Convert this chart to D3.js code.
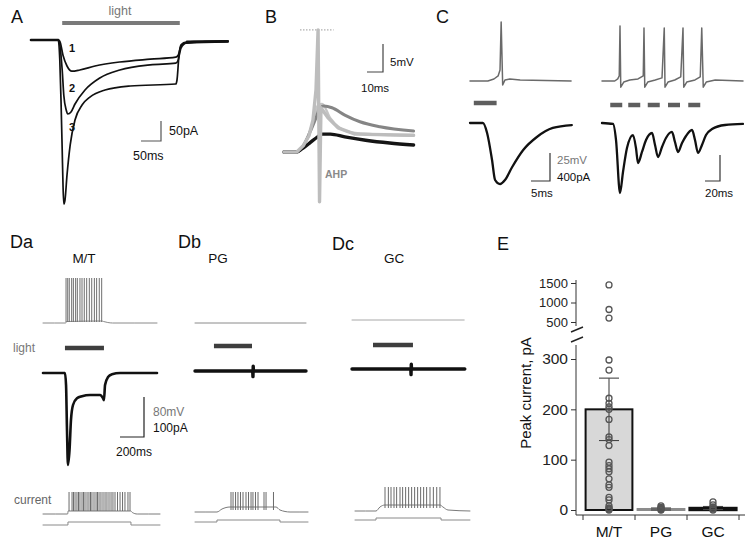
<!DOCTYPE html>
<html>
<head>
<meta charset="utf-8">
<script src="https://cdn.jsdelivr.net/npm/d3@7"></script>
<style>
  body { margin: 0; background: #fff; }
  svg { display: block; font-family: "Liberation Sans", Arial, sans-serif; }
</style>
</head>
<body>
<div id="fig"></div>
<script>
// ---- A: light-evoked currents (ms, pA)
const aLight = [78, 372];
const aTrace1 = [[0,0],[68,0],[72,-3],[80,-38],[90,-65],[102,-78],[122,-75],[160,-65],[222,-55],[298,-48],[362,-43],[368,-38],[375,-15],[385,-8],[422,-5],[492,-3]];
const aTrace2 = [[0,0],[68,0],[72,-12],[78,-75],[82,-138],[88,-175],[92,-185],[100,-180],[110,-160],[135,-125],[172,-95],[222,-75],[298,-62],[362,-58],[368,-50],[375,-20],[388,-8],[492,-5]];
const aTrace3 = [[0,0],[68,0],[72,-50],[75,-150],[78,-275],[80,-362],[82,-410],[85,-400],[90,-338],[98,-262],[110,-200],[128,-162],[148,-142],[185,-125],[248,-115],[362,-110],[365,-100],[370,-38],[375,-12],[388,-5],[492,-3]];

// ---- B: subthreshold responses (ms, mV)
const bBlack = [[0,0],[8,0],[11,0.5],[16,1.6],[21,2.7],[24,3.2],[29,3.2],[38,2.7],[51,2.1],[66,1.6],[81,1.25]];
const bGray = [[0,0],[8,0],[12,1.1],[16,3.4],[20,6.1],[22.5,7.9],[25,8.2],[30,7.9],[38,6.6],[47.5,5.4],[60,4.5],[81,3.75]];
const bLight = [[0,0],[8,0],[13,1.6],[17.5,4.8],[21.3,8.4],[23.8,8.6],[28.8,6.1],[35,4.3],[44.4,3.4],[81,2.9]];
const bSpike = [[0,0],[8,0],[12,1.1],[15.6,2.9],[18.1,5.7],[20,11.1],[21.3,21.8],[22.2,-8.9],[23.1,7.9],[27.5,6.1],[33.8,4.3],[44.4,3.2],[81,3]];
const bClip = [10, 31, 21.8];

// ---- C: single pulse / pulse train (ms, mV / pA)
const cLeftV = [[0,0],[4.7,0],[6.3,1.8],[7.4,4.5],[7.9,9.8],[8.2,52.7],[8.6,-3.6],[9.2,0.9],[10.5,1.8],[13.2,0.9],[26.6,0]];
const cLeftI = [[0,0],[3.4,0],[4.5,-143],[5.8,-529],[6.6,-814],[7.9,-872],[9.2,-815],[11.1,-629],[14,-386],[17.6,-200],[21.8,-71],[26.8,-29]];
const cLeftPulse = [[1,7]];
const cRightV = [[0,0],[17,0],[21,2],[23,5],[24,53],[25,-6],[29,-1],[37,1],[48,2],[55,5],[56,51],[57,-6],[61,-1],[71,1],[80,3],[83,51],[84,-6],[88,-1],[97,1],[105,4],[108,51],[109,-6],[113,-1],[124,1],[131,4],[133,51],[135,-6],[139,-1],[151,1],[188,0]];
const cRightI = [[0,0],[14.7,-15],[18.7,-262],[24,-1077],[28,-754],[33.3,-385],[41.3,-185],[45.3,-385],[48,-615],[53.3,-446],[58.7,-262],[66.7,-154],[70.7,-338],[74.7,-523],[80,-369],[85.3,-231],[93.3,-138],[97.3,-292],[101.3,-446],[106.7,-308],[112,-200],[120,-108],[124,-262],[128,-461],[133.3,-338],[138.7,-185],[146.7,-92],[164,-31],[188,-15]];
const cRightPulses = [[11,27],[35,51],[61,77],[88,104],[115,131]];

// ---- D: M/T, PG, GC (ms, mV / pA)
const dCells = ["M/T", "PG", "GC"];
const dLight = [[183,508],[158,475],[175,508]];
const daTop = [[0,0],[190,0],[195,3],[490,4],[505,3],[540,1],[580,0],[950,0]];
const daTopSpikes = [192,206,219,239,253,272,286,308,325,344,364,386,406,428,447,469,489];
const dbTop = [[0,0],[925,0]];
const dcTop = [[0,0],[935,0]];
const daMid = [[0,0],[183,0],[192,-30],[200,-143],[208,-230],[221,-193],[233,-118],[250,-80],[283,-63],[325,-58],[392,-55],[475,-55],[500,-63],[508,-68],[517,-30],[542,-10],[575,-3],[642,0],[950,0]];
const dbMid = [[0,0],[481,0],[483,-14],[485,12],[487,0],[925,0]];
const dcMid = [[0,0],[490,0],[492,-14],[494,12],[496,0],[940,0]];
const daBot = [[0,0],[205,0],[210,6],[730,6],[745,3],[785,0],[975,0]];
const daBotSpikes = [217,242,254,267,283,296,308,325,338,350,367,383,396,408,425,442,454,467,483,500,517,533,550,567,583,600,621,642,663,683,708,725];
const dbBot = [[0,0],[183,0],[225,6],[292,10],[675,10],[708,4],[792,0],[942,0]];
const dbBotSpikes = [300,317,338,358,379,400,425,446,467,483,504,525,575,592,654];
const dcBot = [[25,0],[200,0],[233,8],[275,12],[733,12],[758,8],[800,2],[983,0]];
const dcBotSpikes = [275,303,325,350,372,400,422,447,472,497,522,547,572,597,622,650,678,706,733];
const daStep = [[0,0],[208,0],[208,7.5],[733,7.5],[733,0],[975,0]];
const dbStep = [[0,0],[183,0],[183,5],[708,5],[708,0],[942,0]];
const dcStep = [[25,0],[200,0],[200,5],[742,5],[742,0],[983,0]];
const dSpikePeaks = [44, 40, 48];
const dTopPeak = 90;

// ---- E: peak current (pA)
const eCategories = ["M/T", "PG", "GC"];
const eMeans = [200, 2, 4];
const eSem = [62, 2, 3];
const eMT = [1450, 820, 600, 298, 278, 222, 212, 205, 200, 180, 145, 140, 128, 95, 88, 82, 76, 62, 50, 45, 25, 20, 8, 4, 2, 0];
const ePG = [8, 5, 3, 1, 0];
const eGC = [16, 10, 6, 3, 0];
const eLowTicks = [0, 100, 200, 300];
const eHighTicks = [500, 1000, 1500];

const FONT = '"Liberation Sans", Arial, sans-serif';
const svg = d3.select("#fig").append("svg").attr("width", 750).attr("height", 544);

function trace(data, x, y, color, width, curved = true) {
  const line = d3.line().x(d => x(d[0])).y(d => y(d[1]));
  if (curved) line.curve(d3.curveMonotoneX);
  svg.append("path").datum(data).attr("d", line)
    .attr("fill", "none").attr("stroke", color).attr("stroke-width", width)
    .attr("stroke-linejoin", "round").attr("stroke-linecap", "round");
}

function spikes(times, x, y, from, to, color) {
  svg.append("g").selectAll("line").data(times).join("line")
    .attr("x1", d => x(d)).attr("x2", d => x(d))
    .attr("y1", y(from)).attr("y2", y(to))
    .attr("stroke", color).attr("stroke-width", 1);
}

function pulses(ranges, x, ypx, color, width) {
  svg.append("g").selectAll("line").data(ranges).join("line")
    .attr("x1", d => x(d[0])).attr("x2", d => x(d[1]))
    .attr("y1", ypx).attr("y2", ypx)
    .attr("stroke", color).attr("stroke-width", width);
}

function text(str, x, y, size, color = "#111", anchor = "start", weight = "normal") {
  return svg.append("text").attr("x", x).attr("y", y).attr("font-size", size)
    .attr("fill", color).attr("text-anchor", anchor).attr("font-weight", weight).text(str);
}

function scaleBar(cx, cy, w, h, color = "#333") {
  svg.append("path").attr("d", `M${cx - w},${cy}H${cx}V${cy - h}`)
    .attr("fill", "none").attr("stroke", color).attr("stroke-width", 1.2);
}

// panel letters
[["A", 11, 23], ["B", 265, 23], ["C", 436, 23], ["Da", 10, 248], ["Db", 178, 248], ["Dc", 332, 250], ["E", 497, 250]]
  .forEach(([s, x, y]) => text(s, x, y, 18));

// ---------------- A
const xA = d3.scaleLinear().domain([0, 500]).range([31, 231]);
const yA = d3.scaleLinear().domain([0, -400]).range([40, 200]);
pulses([aLight], xA, 23, "#7a7a7a", 4);
text("light", 120, 15, 12.5, "#777", "middle");
trace(aTrace1, xA, yA, "#111", 1.7);
trace(aTrace2, xA, yA, "#111", 1.7);
trace(aTrace3, xA, yA, "#111", 1.7);
trace([[0,0],[68,0]], xA, yA, "#111", 2.6);
trace([[390,-4],[492,-3]], xA, yA, "#111", 2.4);
text("1", 72, 52, 11, "#111", "middle", "bold");
text("2", 72, 92, 11, "#111", "middle", "bold");
text("3", 72, 131, 11, "#111", "middle", "bold");
scaleBar(161, 141, xA(50) - xA(0), yA(-50) - yA(0), "#555");
text("50pA", 169, 135, 12.5);
text("50ms", 133, 160, 12.5);

// ---------------- B
const xB = d3.scaleLinear().domain([0, 10]).range([284, 300]);
const yB = d3.scaleLinear().domain([0, 5]).range([152, 124]);
svg.append("line").attr("x1", xB(bClip[0])).attr("x2", xB(bClip[1]))
  .attr("y1", yB(bClip[2])).attr("y2", yB(bClip[2]))
  .attr("stroke", "#9a9a9a").attr("stroke-width", 1).attr("stroke-dasharray", "1.5,1.5");
trace(bLight, xB, yB, "#c4c4c4", 2.4);
trace(bGray, xB, yB, "#858585", 3);
trace(bBlack, xB, yB, "#151515", 3.4);
trace(bSpike, xB, yB, "#bdbdbd", 3.4, false);
text("AHP", 325, 178, 10.5, "#8a8a8a", "start", "bold");
scaleBar(383, 72, xB(10) - xB(0), yB(0) - yB(5), "#444");
text("5mV", 390, 66, 11.5);
text("10ms", 361, 92, 11.5);

// ---------------- C
const xCL = d3.scaleLinear().domain([0, 5]).range([470, 489]);
const yCLv = d3.scaleLinear().domain([0, 25]).range([81, 53]);
const yCLi = d3.scaleLinear().domain([0, -400]).range([123, 151]);
const xCR = d3.scaleLinear().domain([0, 20]).range([602, 617]);
const yCRv = d3.scaleLinear().domain([0, 25]).range([81, 55]);
const yCRi = d3.scaleLinear().domain([0, -400]).range([123, 149]);
trace(cLeftV, xCL, yCLv, "#6a6a6a", 1.5, false);
trace(cRightV, xCR, yCRv, "#6a6a6a", 1.5, false);
pulses(cLeftPulse, xCL, 103, "#5e5e5e", 4.5);
pulses(cRightPulses, xCR, 105, "#5e5e5e", 4.5);
trace(cLeftI, xCL, yCLi, "#111", 2.3);
trace(cRightI, xCR, yCRi, "#111", 2.3);
scaleBar(550, 181, xCL(5) - xCL(0), yCLv(0) - yCLv(25), "#333");
text("25mV", 557, 164, 11.5, "#777");
text("400pA", 557, 181, 11.5);
text("5ms", 531, 197, 11.5);
scaleBar(720, 181, xCR(20) - xCR(0), yCRv(0) - yCRv(25), "#333");
text("20ms", 705, 197, 11.5);

// ---------------- D
const dOrigins = [43, 195, 352];
const dTopBase = [323, 323, 320];
const dMidBase = [373, 371, 369];
const dBotBase = [514, 512, 511];
const dStepBase = [525, 522, 520];
const dLightY = [348, 346, 345];
const dLabelX = [84, 218, 394];
const tops = [daTop, dbTop, dcTop];
const mids = [daMid, dbMid, dcMid];
const bots = [daBot, dbBot, dcBot];
const botSpikes = [daBotSpikes, dbBotSpikes, dcBotSpikes];
const steps = [daStep, dbStep, dcStep];
const yV = base => d3.scaleLinear().domain([0, 80]).range([base, base - 40]);
const yI = base => d3.scaleLinear().domain([0, -100]).range([base, base + 40]);

dCells.forEach((cell, i) => {
  const x = d3.scaleLinear().domain([0, 1000]).range([dOrigins[i], dOrigins[i] + 120]);
  text(cell, dLabelX[i], 263, 13.5, "#111", "middle");
  const yt = yV(dTopBase[i]);
  trace(tops[i], x, yt, i === 2 ? "#a8a8a8" : "#8a8a8a", 1);
  if (i === 0) spikes(daTopSpikes, x, yt, 2, dTopPeak, "#6e6e6e");
  pulses([dLight[i]], x, dLightY[i], "#3e3e3e", 4.5);
  trace(mids[i], x, yI(dMidBase[i]), "#111", i === 0 ? 2.6 : 3.4, i === 0);
  const yb = yV(dBotBase[i]);
  trace(bots[i], x, yb, "#7a7a7a", 1);
  spikes(botSpikes[i], x, yb, i === 1 ? 4 : 6, dSpikePeaks[i], "#6a6a6a");
  trace(steps[i], x, yI(dStepBase[i]), "#8a8a8a", 1, false);
});
text("light", 13, 352, 12, "#777");
text("current", 14, 504, 12, "#666");
const xDa = d3.scaleLinear().domain([0, 1000]).range([43, 163]);
scaleBar(144, 437, xDa(200) - xDa(0), yV(0)(0) - yV(0)(80), "#222");
text("80mV", 153, 416, 12, "#777");
text("100pA", 153, 432, 12);
text("200ms", 116, 456, 12);

// ---------------- E
const xE = d3.scaleBand().domain(eCategories).range([583, 739]).paddingInner(0.1).paddingOuter(0.05);
const yE = d3.scaleLinear().domain([0, 300]).range([510, 359]);
const yEHigh = d3.scaleLinear().domain([500, 1500]).range([322, 283]);
const yPos = v => (v > 400 ? yEHigh(v) : yE(v));
const cx = c => xE(c) + xE.bandwidth() / 2;

const axisLow = svg.append("g").attr("transform", "translate(576,0)")
  .call(d3.axisLeft(yE).tickValues(eLowTicks).tickFormat(d3.format("d")).tickSize(5).tickPadding(3));
const axisHigh = svg.append("g").attr("transform", "translate(576,0)")
  .call(d3.axisLeft(yEHigh).tickValues(eHighTicks).tickFormat(d3.format("d")).tickSize(5).tickPadding(3));
[axisLow, axisHigh].forEach(g => {
  g.attr("font-family", FONT);
  g.select(".domain").remove();
  g.selectAll(".tick line").attr("stroke", "#333");
  g.selectAll(".tick text").attr("fill", "#222");
});
axisLow.selectAll(".tick text").attr("font-size", 15.5);
axisHigh.selectAll(".tick text").attr("font-size", 13);
svg.append("line").attr("x1", 576).attr("x2", 576).attr("y1", 280).attr("y2", 326).attr("stroke", "#333");
svg.append("line").attr("x1", 576).attr("x2", 576).attr("y1", 345).attr("y2", 515).attr("stroke", "#333");
[[332, 327], [342, 337]].forEach(([ya, yb]) =>
  svg.append("line").attr("x1", 571).attr("x2", 583).attr("y1", ya).attr("y2", yb)
    .attr("stroke", "#222").attr("stroke-width", 1.4));

svg.append("line").attr("x1", 576).attr("x2", 745).attr("y1", 515).attr("y2", 515).attr("stroke", "#333");
svg.append("g").selectAll("line").data(d3.range(eCategories.length + 1)).join("line")
  .attr("x1", i => 583 + i * xE.step()).attr("x2", i => 583 + i * xE.step())
  .attr("y1", 515).attr("y2", 520).attr("stroke", "#333");
svg.append("g").selectAll("text").data(eCategories).join("text")
  .attr("x", c => cx(c)).attr("y", 537).attr("text-anchor", "middle")
  .attr("font-size", 15.5).attr("fill", "#111").text(c => c);

svg.append("text").attr("transform", "translate(531,393) rotate(-90)")
  .attr("text-anchor", "middle").attr("font-size", 15).attr("fill", "#111")
  .text("Peak current, pA");

svg.append("g").selectAll("rect").data(eCategories).join("rect")
  .attr("x", c => xE(c)).attr("width", xE.bandwidth())
  .attr("y", (c, i) => yE(eMeans[i])).attr("height", (c, i) => yE(0) - yE(eMeans[i]))
  .attr("fill", (c, i) => (i === 0 ? "#d8d8d8" : "none"))
  .attr("stroke", (c, i) => (i === 1 ? "#8c8c8c" : "#111"))
  .attr("stroke-width", (c, i) => (i === 2 ? 2.4 : 2));

eCategories.forEach((c, i) => {
  const lo = yE(eMeans[i] - eSem[i]), hi = yE(eMeans[i] + eSem[i]);
  const g = svg.append("g").attr("stroke", "#444").attr("stroke-width", 1.1);
  g.append("line").attr("x1", cx(c)).attr("x2", cx(c)).attr("y1", lo).attr("y2", hi);
  [lo, hi].forEach(y => g.append("line").attr("x1", cx(c) - 10).attr("x2", cx(c) + 10).attr("y1", y).attr("y2", y));
});

[eMT, ePG, eGC].forEach((vals, i) => {
  svg.append("g").selectAll("circle").data(vals).join("circle")
    .attr("cx", cx(eCategories[i])).attr("cy", v => yPos(v)).attr("r", 3)
    .attr("fill", "none").attr("stroke", "#555").attr("stroke-width", 1.3);
});
</script>
</body>
</html>
